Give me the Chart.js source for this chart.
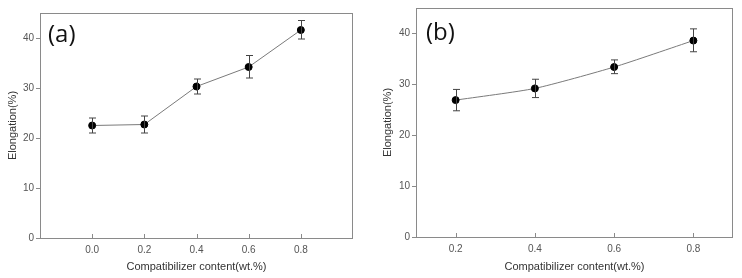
<!DOCTYPE html>
<html>
<head>
<meta charset="utf-8">
<script src="https://cdn.jsdelivr.net/npm/chart.js@4.4.1/dist/chart.umd.min.js"></script>
<style>
  body { margin: 0; background: #fff; }
  .box { position: absolute; top: 0; width: 371px; height: 278px; }
  #boxA { left: 0; }
  #boxB { left: 371px; }
</style>
</head>
<body>
<div class="box" id="boxA"><canvas id="graficoA"></canvas></div>
<div class="box" id="boxB"><canvas id="graficoB"></canvas></div>
<script>
// dados
const conteudoA = [0.0, 0.2, 0.4, 0.6, 0.8];
const alongamentoA = [22.5, 22.7, 30.3, 34.2, 41.6];
const erroInfA = [21.0, 21.0, 28.8, 32.0, 39.8];
const erroSupA = [24.0, 24.4, 31.8, 36.5, 43.5];

const conteudoB = [0.2, 0.4, 0.6, 0.8];
const alongamentoB = [26.9, 29.2, 33.4, 38.6];
const erroInfB = [24.8, 27.4, 32.1, 36.4];
const erroSupB = [29.0, 31.0, 34.8, 40.9];

const ticksY = [0, 10, 20, 30, 40];
const ticksXA = [0.0, 0.2, 0.4, 0.6, 0.8];
const ticksXB = [0.2, 0.4, 0.6, 0.8];

const corEixo = '#8a8a8a';
const corTexto = '#555';
const fonte = 'Liberation Sans, Arial, sans-serif';

// barras de erro, moldura, marcas do eixo x (para dentro) e letra do painel
const extras = {
    id: 'extras',
    afterDatasetsDraw(chart, args, opts) {
        const c = chart.ctx;
        const x = chart.scales.x, y = chart.scales.y;
        const a = chart.chartArea;
        c.save();
        // moldura
        c.strokeStyle = corEixo;
        c.lineWidth = 1;
        c.strokeRect(a.left + 0.5, a.top + 0.5, a.right - a.left - 1, a.bottom - a.top);
        // marcas do eixo x
        opts.ticksX.forEach(v => {
            const px = Math.round(x.getPixelForValue(v)) + 0.5;
            c.beginPath();
            c.moveTo(px, a.bottom);
            c.lineTo(px, a.bottom - 4);
            c.stroke();
        });
        // barras de erro
        c.strokeStyle = '#444';
        opts.xs.forEach((v, i) => {
            const px = Math.round(x.getPixelForValue(v)) + 0.5;
            const y1 = y.getPixelForValue(opts.inf[i]);
            const y2 = y.getPixelForValue(opts.sup[i]);
            c.beginPath();
            c.moveTo(px, y1); c.lineTo(px, y2);
            c.moveTo(px - 3.5, y1); c.lineTo(px + 3.5, y1);
            c.moveTo(px - 3.5, y2); c.lineTo(px + 3.5, y2);
            c.stroke();
        });
        // letra do painel
        c.fillStyle = '#111';
        c.font = '24px "Open Sans", sans-serif';
        c.textBaseline = 'middle';
        c.fillText(opts.letra, a.left + opts.dx, opts.ly);
        c.restore();
    }
};

function criarGrafico(id, xs, ys, inf, sup, ticksX, xmin, xmax, letra, dims) {
    const ctx = document.getElementById(id).getContext('2d');
    return new Chart(ctx, {
        type: 'line',
        data: {
            datasets: [{
                data: xs.map((v, i) => ({ x: v, y: ys[i] })),
                borderColor: '#7a7a7a',
                borderWidth: 1,
                pointBackgroundColor: '#000',
                pointBorderColor: '#000',
                pointRadius: 3.5,
                tension: dims.tension
            }]
        },
        options: {
            responsive: true,
            maintainAspectRatio: false,
            animation: false,
            layout: { padding: { top: dims.top, right: dims.right, left: 0, bottom: 0 } },
            plugins: {
                legend: { display: false },
                tooltip: { enabled: false },
                extras: { xs: xs, inf: inf, sup: sup, ticksX: ticksX, letra: letra, dx: dims.dx, ly: dims.ly }
            },
            scales: {
                x: {
                    type: 'linear',
                    min: xmin,
                    max: xmax,
                    afterBuildTicks: s => { s.ticks = ticksX.map(v => ({ value: v })); },
                    afterFit: s => { s.height = dims.xh; },
                    grid: { display: false, drawTicks: false },
                    border: { display: false },
                    ticks: {
                        color: corTexto,
                        padding: 6,
                        font: { family: fonte, size: 10 },
                        callback: v => v.toFixed(1)
                    },
                    title: {
                        display: true,
                        text: 'Compatibilizer content(wt.%)',
                        color: '#333',
                        font: { family: fonte, size: 11 },
                        padding: { top: 0, bottom: 4 }
                    }
                },
                y: {
                    min: 0,
                    max: 45,
                    afterBuildTicks: s => { s.ticks = ticksY.map(v => ({ value: v })); },
                    afterFit: s => { s.width = dims.yw; },
                    grid: { drawOnChartArea: false, drawTicks: true, tickLength: 4, color: corEixo },
                    border: { display: false },
                    ticks: {
                        color: corTexto,
                        padding: 2,
                        font: { family: fonte, size: 10 }
                    },
                    title: {
                        display: true,
                        text: 'Elongation(%)',
                        color: '#333',
                        font: { family: fonte, size: 11 },
                        padding: { top: dims.tp, bottom: 0 }
                    }
                }
            }
        },
        plugins: [extras]
    });
}

criarGrafico('graficoA', conteudoA, alongamentoA, erroInfA, erroSupA, ticksXA, -0.2, 1.0, '(a)',
    { top: 13, right: 18, xh: 40, yw: 40, tp: 6, dx: 8, ly: 35, tension: 0 });
criarGrafico('graficoB', conteudoB, alongamentoB, erroInfB, erroSupB, ticksXB, 0.1, 0.9, '(b)',
    { top: 8, right: 9, xh: 41, yw: 45, tp: 10, dx: 10, ly: 33, tension: 0.2 });
</script>
</body>
</html>
